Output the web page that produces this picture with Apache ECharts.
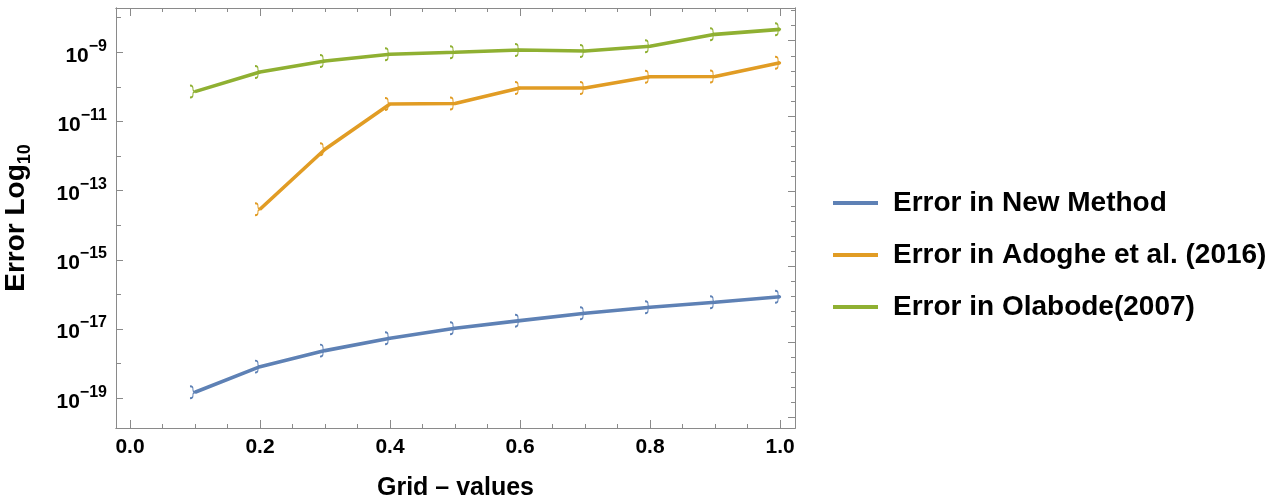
<!DOCTYPE html>
<html>
<head>
<meta charset="utf-8">
<script src="https://cdn.jsdelivr.net/npm/echarts@6/dist/echarts.min.js"></script>
<style>
  html, body { margin: 0; padding: 0; background: #ffffff; }
  #chart { width: 1287px; height: 502px; }
</style>
</head>
<body>
<div id="chart"></div>
<script>
// Grid points and absolute errors of the three methods
const gridValues = [0.1, 0.2, 0.3, 0.4, 0.5, 0.6, 0.7, 0.8, 0.9, 1.0];
const errNewMethod = [1.49e-19, 8.2e-19, 2.38e-18, 5.4e-18, 1.05e-17, 1.75e-17, 2.86e-17, 4.27e-17, 5.96e-17, 8.6e-17];
const errAdoghe = [null, 2.9e-14, 1.58e-12, 3.2e-11, 3.3e-11, 9.3e-11, 9.3e-11, 1.97e-10, 2.0e-10, 5.0e-10];
const errOlabode = [7.3e-11, 2.7e-10, 5.6e-10, 8.75e-10, 1.0e-9, 1.16e-9, 1.09e-9, 1.49e-9, 3.3e-9, 4.6e-9];

const seriesNames = ['Error in New Method', 'Error in Adoghe et al. (2016)', 'Error in Olabode(2007)'];
const seriesColors = ['#5e81b5', '#e19c24', '#8fb032'];

// Axis tick positions
const xMajorTicks = [0, 0.2, 0.4, 0.6, 0.8, 1.0];
const xMinorTicks = [0.05, 0.1, 0.15, 0.25, 0.3, 0.35, 0.45, 0.5, 0.55, 0.65, 0.7, 0.75, 0.85, 0.9, 0.95];
const yLabelExponents = [-19, -17, -15, -13, -11, -9];
const yMinorExponents = [-18, -16, -14, -12, -10, -8];

const FONT = "'Liberation Sans', Arial, Helvetica, sans-serif";
const FRAME = '#8a8a8a';
const X_RANGE = [-0.0215, 1.023];
const Y_RANGE = [-19.86, -7.72];      // decades (log10 of the error)
const R_RANGE = [-20.73, 7.176];      // right-hand frame tick units

// Brace-like point marker, drawn as an outline
const markerPath = 'path://M0,0 C3,0 3,2 3,5 C3,7 4,8 6,8 C4,8 3,9 3,11 C3,14 3,16 0,16';

function toPoints(values) {
  const pts = [];
  values.forEach((v, i) => { if (v != null) pts.push([gridValues[i], Math.log10(v)]); });
  return pts;
}

function frameX(gridIndex, position, ticks, len, withLabels) {
  return {
    type: 'value', gridIndex, position, min: X_RANGE[0], max: X_RANGE[1], scale: true,
    axisLine: { show: true, onZero: false, lineStyle: { color: FRAME, width: 1 } },
    axisTick: { show: true, inside: true, length: len, customValues: ticks, lineStyle: { color: FRAME, width: 1 } },
    axisLabel: withLabels ? {
      show: true, customValues: xMajorTicks, formatter: v => Number(v).toFixed(1),
      fontFamily: FONT, fontSize: 21, fontWeight: 'bold', color: '#000', margin: 9
    } : { show: false },
    splitLine: { show: false }
  };
}

function frameY(gridIndex, position, range, ticks, len) {
  return {
    type: 'value', gridIndex, position, min: range[0], max: range[1], scale: true,
    axisLine: { show: true, onZero: false, lineStyle: { color: FRAME, width: 1 } },
    axisTick: { show: true, inside: true, length: len, customValues: ticks, lineStyle: { color: FRAME, width: 1 } },
    axisLabel: { show: false },
    splitLine: { show: false }
  };
}

const xAxes = [
  Object.assign(frameX(0, 'bottom', xMajorTicks, 8, true), {
    name: 'Grid \u2013 values', nameLocation: 'middle', nameGap: 48,
    nameTextStyle: { fontFamily: FONT, fontSize: 25, fontWeight: 'bold', color: '#000' }
  }),
  frameX(0, 'top', xMajorTicks, 8, false),
  frameX(1, 'bottom', xMinorTicks, 4, false),
  frameX(1, 'top', xMinorTicks, 4, false)
];

const rightMajor = [-20, -15, -10, -5, 0, 5];
const rightMinor = [];
for (let k = -20; k <= 7; k++) if (k % 5 !== 0) rightMinor.push(k);

const yMain = frameY(0, 'left', Y_RANGE, yLabelExponents, 7);
yMain.axisLabel = {
  show: true, customValues: yLabelExponents, margin: 9,
  formatter: v => '{b|10}{s|\u2212' + Math.abs(Math.round(v)) + '}',
  rich: {
    b: { fontFamily: FONT, fontSize: 21, fontWeight: 'bold', color: '#000', lineHeight: 28, verticalAlign: 'bottom' },
    s: { fontFamily: FONT, fontSize: 16, fontWeight: 'bold', color: '#000', lineHeight: 16, verticalAlign: 'top' }
  }
};
yMain.name = '{a|Error Log}{sub|10}';
yMain.nameLocation = 'middle';
yMain.nameGap = 82;
yMain.nameTextStyle = {
  rich: {
    a: { fontFamily: FONT, fontSize: 28, fontWeight: 'bold', color: '#000', lineHeight: 32, verticalAlign: 'top' },
    sub: { fontFamily: FONT, fontSize: 18, fontWeight: 'bold', color: '#000', lineHeight: 18, verticalAlign: 'bottom' }
  }
};

const yAxes = [
  yMain,
  frameY(0, 'right', R_RANGE, rightMajor, 7),
  frameY(1, 'left', Y_RANGE, yMinorExponents, 5),
  frameY(1, 'right', R_RANGE, rightMinor, 4)
];

const seriesData = [errNewMethod, errAdoghe, errOlabode];
const series = seriesData.map((vals, i) => ({
  name: seriesNames[i],
  type: 'line',
  xAxisIndex: 0,
  yAxisIndex: 0,
  data: toPoints(vals),
  symbol: markerPath,
  symbolSize: [6, 12],
  symbolOffset: [-2, 0],
  itemStyle: { color: 'none', borderColor: seriesColors[i], borderWidth: 1.4 },
  lineStyle: { color: seriesColors[i], width: 3.6 },
  emphasis: { disabled: true },
  animation: false,
  z: 3
}));

const gridRect = { left: 116, top: 8, width: 679, height: 420, outerBoundsMode: 'none', containLabel: false };
const chart = echarts.init(document.getElementById('chart'), null, { renderer: 'canvas' });
chart.setOption({
  backgroundColor: '#ffffff',
  animation: false,
  grid: [Object.assign({}, gridRect), Object.assign({}, gridRect)],
  xAxis: xAxes,
  yAxis: yAxes,
  legend: {
    orient: 'vertical', left: 833, top: 188, padding: 0,
    itemWidth: 45, itemHeight: 4, itemGap: 22,
    selectedMode: false,
    data: seriesNames.map((n, i) => ({ name: n, icon: 'rect', itemStyle: { color: seriesColors[i], borderWidth: 0 } })),
    textStyle: { fontFamily: FONT, fontSize: 28, fontWeight: 'bold', color: '#000', lineHeight: 30, padding: [0, 0, 0, 10] }
  },
  series
});
</script>
</body>
</html>
